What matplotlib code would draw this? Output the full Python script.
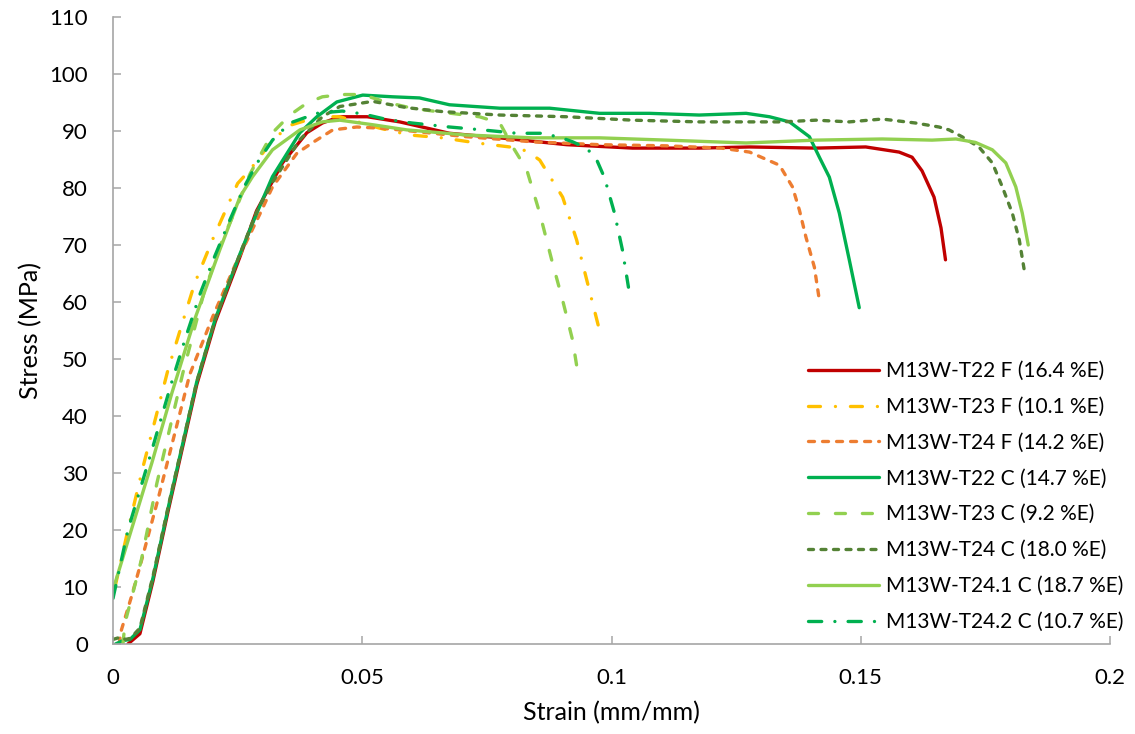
import matplotlib
matplotlib.use("Agg")
import matplotlib.pyplot as plt

plt.rcParams['font.family'] = ['Lato', 'DejaVu Sans']
plt.rcParams['lines.scale_dashes'] = False

# --- data (strain mm/mm, stress MPa) ---
t22f_strain = [0.003, 0.0054, 0.008, 0.0111, 0.0168, 0.0205, 0.0255, 0.0288, 0.034, 0.0389,
               0.042, 0.0455, 0.051, 0.0575, 0.0675, 0.0776, 0.091, 0.1042, 0.1176, 0.1277,
               0.141, 0.151, 0.1577, 0.1603, 0.1623, 0.1647, 0.1661, 0.167]
t22f_stress = [0, 1.8, 11, 23.5, 45.5, 56.5, 68, 76, 84.4, 89.7,
               91.4, 92.5, 92.5, 91.6, 89.6, 88.8, 87.6, 87.0, 87.0, 87.2,
               87.0, 87.2, 86.3, 85.4, 83.0, 78.4, 73.0, 67.4]

t23f_strain = [0.0004, 0.003, 0.006, 0.0088, 0.011, 0.0138, 0.0164, 0.02, 0.025, 0.0275,
               0.032, 0.0355, 0.0389, 0.042, 0.0455, 0.0535, 0.0595, 0.0661, 0.073, 0.0796,
               0.083, 0.0856, 0.0902, 0.093, 0.0952, 0.0976, 0.098]
t23f_stress = [10, 20, 31, 40.5, 48, 56, 63.3, 71, 80.8, 83.2,
               88.4, 91, 91.9, 92.5, 92.5, 90.5, 89.3, 88.8, 87.9, 87.2,
               86.5, 84.9, 78.4, 70.9, 63.3, 55, 54]

t24f_strain = [0.0012, 0.0017, 0.0037, 0.0054, 0.009, 0.0154, 0.02, 0.0245, 0.0295, 0.032,
               0.0369, 0.0401, 0.0441, 0.0489, 0.0535, 0.0575, 0.0709, 0.0842, 0.0976, 0.111,
               0.122, 0.1277, 0.1337, 0.1363, 0.1377, 0.139, 0.1407, 0.1417]
t24f_stress = [0, 2.5, 8.3, 13.6, 25.3, 47.3, 57.4, 66.5, 75.5, 80.2,
               86.1, 88, 90.2, 90.7, 90.5, 90.2, 89, 88.1, 87.6, 87.4,
               87.0, 86.3, 84, 80.2, 76.1, 71.4, 66.1, 60.3]

t22c_strain = [0.0005, 0.002, 0.0034, 0.0054, 0.008, 0.0111, 0.0168, 0.0205, 0.0255, 0.0288,
               0.032, 0.0375, 0.0409, 0.0449, 0.0501, 0.0561, 0.0615, 0.0675, 0.0776, 0.0876,
               0.0976, 0.1076, 0.1176, 0.127, 0.1317, 0.1357, 0.1397, 0.1417, 0.1437, 0.1457,
               0.1477, 0.1497]
t22c_stress = [0, 0.6, 0.8, 2.5, 11.5, 24, 46, 57, 68.5, 75.5,
               82, 89.7, 92.5, 95.1, 96.3, 96, 95.8, 94.6, 94, 94,
               93.1, 93.1, 92.8, 93.1, 92.5, 91.6, 89, 85.4, 81.9, 75.6,
               67.4, 59]

t23c_strain = [0.002, 0.0024, 0.004, 0.0057, 0.0088, 0.014, 0.0182, 0.022, 0.0245, 0.0275,
               0.032, 0.0355, 0.0389, 0.042, 0.046, 0.05, 0.055, 0.06, 0.065, 0.0735,
               0.0776, 0.0802, 0.083, 0.0856, 0.088, 0.0902, 0.0922, 0.093]
t23c_stress = [0, 3.7, 9, 14.8, 28.2, 47.5, 61.5, 71, 76, 82.5,
               89.7, 92.8, 94.9, 96, 96.4, 96.4, 95, 94, 93.4, 92.5,
               91.4, 87.2, 83.2, 75.6, 67.4, 60.3, 53.3, 48.9]

t24c_strain = [0, 0.0015, 0.0025, 0.0035, 0.0054, 0.008, 0.0111, 0.0168, 0.0205, 0.0255,
               0.0288, 0.032, 0.0375, 0.042, 0.0455, 0.0521, 0.0589, 0.0661, 0.0776, 0.091,
               0.1042, 0.1176, 0.1277, 0.1343, 0.141, 0.1477, 0.1543, 0.161, 0.1657, 0.1677,
               0.1703, 0.1737, 0.1764, 0.1784, 0.1804, 0.1818, 0.1828]
t24c_stress = [0.8, 1.2, 0.8, 1.0, 2.8, 11.8, 24.2, 46, 57, 68.5,
               75.8, 81, 88.5, 92.5, 94.3, 95.2, 94.1, 93.4, 92.8, 92.5,
               91.9, 91.6, 91.6, 91.6, 91.9, 91.6, 92.1, 91.4, 90.7, 90.2,
               89, 87.2, 84.4, 80.2, 75.6, 70.9, 65.6]

t241c_strain = [0, 0.0078, 0.0118, 0.0164, 0.0214, 0.0255, 0.028, 0.032, 0.0375, 0.042,
                0.0455, 0.0521, 0.0589, 0.0709, 0.0842, 0.0976, 0.111, 0.127, 0.141, 0.1543,
                0.1643, 0.1691, 0.173, 0.1764, 0.1791, 0.1811, 0.1824, 0.1836]
t241c_stress = [9.5, 31.8, 44, 57, 69.1, 78.5, 82, 86.7, 90.2, 91.6,
                91.9, 91.1, 90.2, 89.3, 88.8, 88.8, 88.4, 87.9, 88.4, 88.6,
                88.4, 88.6, 88, 86.7, 84.4, 80.2, 75.6, 70]

t242c_strain = [0, 0.003, 0.0078, 0.0118, 0.0144, 0.0175, 0.0204, 0.0235, 0.0265, 0.029,
                0.032, 0.0355, 0.0409, 0.046, 0.0501, 0.055, 0.06, 0.0675, 0.074, 0.081,
                0.0862, 0.09, 0.0922, 0.095, 0.097, 0.0986, 0.1006, 0.1022, 0.1034]
t242c_stress = [8, 20, 34, 46, 53.3, 61.5, 68, 74.5, 80.5, 84.5,
                88.4, 91.4, 93.1, 93.5, 93, 92, 91.4, 90.7, 90.2, 89.6,
                89.6, 88.8, 88.1, 87, 85, 81.8, 75.6, 69.1, 62.6]

labels = ['M13W-T22 F (16.4 %E)', 'M13W-T23 F (10.1 %E)', 'M13W-T24 F (14.2 %E)',
          'M13W-T22 C (14.7 %E)', 'M13W-T23 C (9.2 %E)', 'M13W-T24 C (18.0 %E)',
          'M13W-T24.1 C (18.7 %E)', 'M13W-T24.2 C (10.7 %E)']

x_ticks = [0, 0.05, 0.1, 0.15, 0.2]
x_tick_labels = ['0', '0.05', '0.1', '0.15', '0.2']
y_ticks = list(range(0, 111, 10))

series = [
    (t22f_strain, t22f_stress, '#C00000', '-'),
    (t23f_strain, t23f_stress, '#FFC000', (0, (8.6, 10.8, 0.01, 10.8))),
    (t24f_strain, t24f_stress, '#ED7D31', (0, (4.3, 5.8))),
    (t22c_strain, t22c_stress, '#00B050', '-'),
    (t23c_strain, t23c_stress, '#92D050', (0, (7.2, 12.2))),
    (t24c_strain, t24c_stress, '#548235', (0, (3.6, 5.4))),
    (t241c_strain, t241c_stress, '#92D050', '-'),
    (t242c_strain, t242c_stress, '#00B050', (0, (9.5, 9.5, 0.01, 9.5))),
]

fig = plt.figure(figsize=(11.35, 7.34), dpi=100)
ax = fig.add_axes([113 / 1135, 1 - 644 / 734, (1110 - 113) / 1135, (644 - 17) / 734])

for (xs, ys, col, ls), lab in zip(series, labels):
    ax.plot(xs, ys, color=col, linestyle=ls, lw=2.4, label=lab,
            solid_capstyle='round', dash_capstyle='round', solid_joinstyle='round')

ax.set_xlim(0, 0.2)
ax.set_ylim(0, 110)
ax.set_xticks(x_ticks)
ax.set_xticklabels(x_tick_labels)
ax.set_yticks(y_ticks)

for side in ['top', 'right']:
    ax.spines[side].set_visible(False)
for side in ['left', 'bottom']:
    ax.spines[side].set_color('#A6A6A6')
    ax.spines[side].set_linewidth(1.2)

ax.tick_params(axis='both', direction='in', length=6, width=1.1, color='#A6A6A6',
               labelsize=16, labelcolor='black')
ax.tick_params(axis='y', pad=18)
ax.tick_params(axis='x', pad=17)

ax.set_xlabel('Strain (mm/mm)', fontsize=18, labelpad=10)
ax.set_ylabel('Stress (MPa)', fontsize=18, labelpad=5)

ax.legend(loc='upper left', bbox_to_anchor=(808 / 1135, 1 - 361 / 734),
          bbox_transform=fig.transFigure, frameon=False, fontsize=15,
          handlelength=3.4, handletextpad=0.35, labelspacing=0.76, borderpad=0,
          borderaxespad=0)

fig.savefig('out.png', dpi=100)
